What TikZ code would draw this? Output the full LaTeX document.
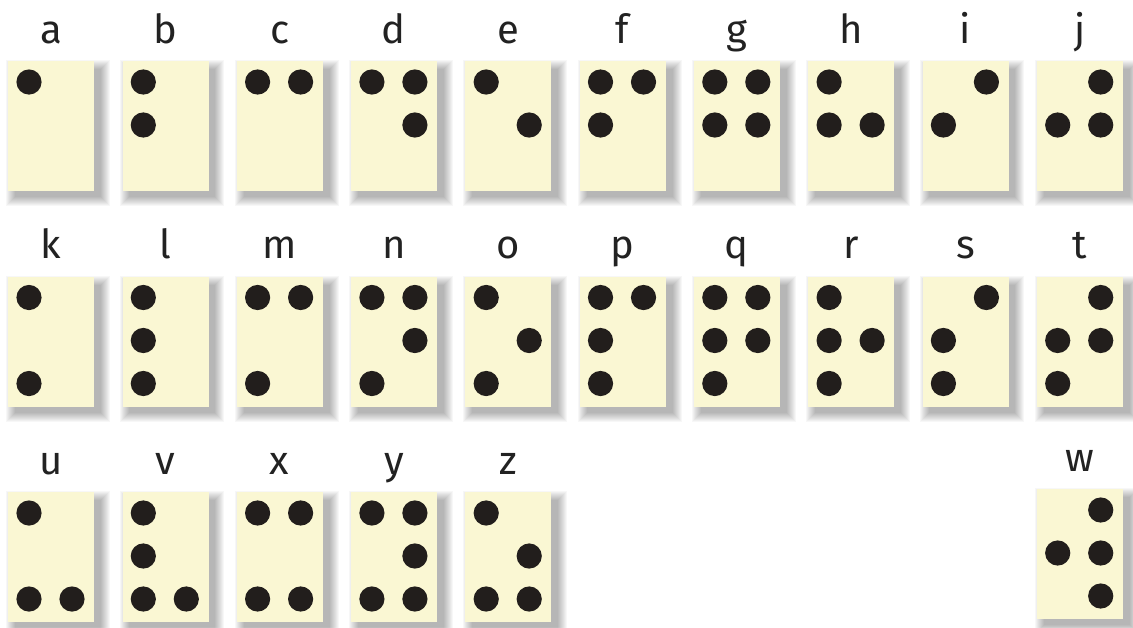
\documentclass[tikz,border=0pt]{standalone}
\usepackage{fontspec}
\setmainfont{Fira Sans}
\definecolor{cardfill}{HTML}{FAF7D3}
\definecolor{dotfill}{HTML}{221E1C}
\definecolor{labeltext}{HTML}{222222}
\tikzset{
  cardbox/.style={rectangle, inner sep=0pt, minimum width=86pt, minimum height=130pt, fill=cardfill, anchor=north west},
  letterlabel/.style={anchor=base, inner sep=0pt, text=labeltext, font=\fontsize{40}{48}\selectfont},
  brailledot/.style={fill=dotfill}
}
\newcommand\braillecard[5]{%
  \foreach \k in {0,...,9}{%
    \fill[black, opacity=0.032] ({#2+7-\k},{#3+8-\k}) rectangle ({#2+86+7+\k},{#3+130+6+\k});
  }
  \node[cardbox] (card#1) at (#2,#3) {};
  \node[letterlabel] (label#1) at ({#2+43},{#3-18}) {#4};
  \foreach \d in {#5}{%
    \pgfmathtruncatemacro\cc{\d>3}
    \pgfmathtruncatemacro\rr{mod(\d-1,3)}
    \fill[brailledot] ({#2+21+43*\cc},{#3+21+43*\rr}) circle (12.6);
  }
}
\begin{document}
\begin{tikzpicture}[x=1pt,y=-1pt]
\fill[white] (0,0) rectangle (1133,627);
\useasboundingbox (0,0) rectangle (1133,627);
% row 1
\braillecard{a}{8}{61}{a}{1}
\braillecard{b}{122.3}{61}{b}{1,2}
\braillecard{c}{236.6}{61}{c}{1,4}
\braillecard{d}{350.9}{61}{d}{1,4,5}
\braillecard{e}{465.2}{61}{e}{1,5}
\braillecard{f}{579.5}{61}{f}{1,2,4}
\braillecard{g}{693.8}{61}{g}{1,2,4,5}
\braillecard{h}{808.1}{61}{h}{1,2,5}
\braillecard{i}{922.4}{61}{i}{2,4}
\braillecard{j}{1036.7}{61}{j}{2,4,5}
% row 2
\braillecard{k}{8}{276.5}{k}{1,3}
\braillecard{l}{122.3}{276.5}{l}{1,2,3}
\braillecard{m}{236.6}{276.5}{m}{1,3,4}
\braillecard{n}{350.9}{276.5}{n}{1,3,4,5}
\braillecard{o}{465.2}{276.5}{o}{1,3,5}
\braillecard{p}{579.5}{276.5}{p}{1,2,3,4}
\braillecard{q}{693.8}{276.5}{q}{1,2,3,4,5}
\braillecard{r}{808.1}{276.5}{r}{1,2,3,5}
\braillecard{s}{922.4}{276.5}{s}{2,3,4}
\braillecard{t}{1036.7}{276.5}{t}{2,3,4,5}
% row 3
\braillecard{u}{8}{492}{u}{1,3,6}
\braillecard{v}{122.3}{492}{v}{1,2,3,6}
\braillecard{x}{236.6}{492}{x}{1,3,4,6}
\braillecard{y}{350.9}{492}{y}{1,3,4,5,6}
\braillecard{z}{465.2}{492}{z}{1,3,5,6}
\braillecard{w}{1036.7}{489}{w}{2,4,5,6}
\end{tikzpicture}
\end{document}
